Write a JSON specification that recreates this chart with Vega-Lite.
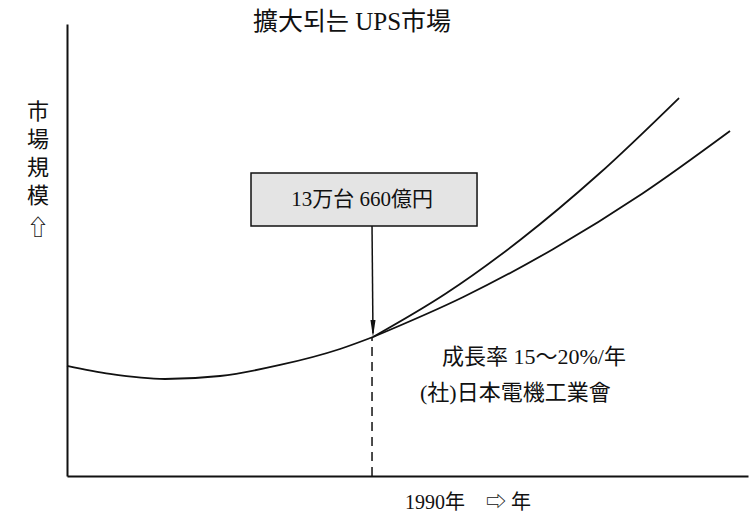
{
  "$schema": "https://vega.github.io/schema/vega-lite/v6.json",
  "width": 681,
  "height": 452,
  "autosize": {"type": "none"},
  "padding": {"left": 67, "top": 24, "right": 4, "bottom": 43},
  "background": "white",
  "config": {
    "view": {"stroke": null},
    "axis": {"labels": false, "ticks": false, "grid": false, "domainColor": "#111", "domainWidth": 2},
    "text": {"font": "Liberation Serif, Noto Sans CJK JP", "color": "#111"}
  },
  "layer": [
    {
      "data": {"values": [
        {"series": "base", "o": 1, "t": 0, "v": 24.34},
        {"series": "base", "o": 2, "t": 6.31, "v": 22.57},
        {"series": "base", "o": 3, "t": 14.39, "v": 21.46},
        {"series": "base", "o": 4, "t": 22.47, "v": 22.12},
        {"series": "base", "o": 5, "t": 31.28, "v": 24.56},
        {"series": "base", "o": 6, "t": 40.09, "v": 28.1},
        {"series": "base", "o": 7, "t": 44.93, "v": 30.75},
        {"series": "high", "o": 1, "t": 44.93, "v": 30.75},
        {"series": "high", "o": 2, "t": 55.58, "v": 40.31},
        {"series": "high", "o": 3, "t": 66.63, "v": 52.32},
        {"series": "high", "o": 4, "t": 78.05, "v": 66.75},
        {"series": "high", "o": 5, "t": 89.87, "v": 83.63},
        {"series": "low", "o": 1, "t": 44.93, "v": 30.75},
        {"series": "low", "o": 2, "t": 58.19, "v": 39.6},
        {"series": "low", "o": 3, "t": 71.36, "v": 50.18},
        {"series": "low", "o": 4, "t": 84.4, "v": 62.39},
        {"series": "low", "o": 5, "t": 97.36, "v": 76.33}
      ]},
      "mark": {"type": "line", "interpolate": "monotone", "color": "#111", "strokeWidth": 1.8},
      "encoding": {
        "x": {"field": "t", "type": "quantitative", "scale": {"domain": [0, 100], "nice": false, "zero": false}, "axis": {"title": null}},
        "y": {"field": "v", "type": "quantitative", "scale": {"domain": [0, 100], "nice": false, "zero": false}, "axis": {"title": null}},
        "detail": {"field": "series"},
        "order": {"field": "o"}
      }
    },
    {
      "data": {"values": [{"t": 44.79, "v": 0, "v2": 30.75}]},
      "mark": {"type": "rule", "color": "#111", "strokeWidth": 1.5, "strokeDash": [9, 6]},
      "encoding": {
        "x": {"field": "t", "type": "quantitative", "axis": {"title": null}},
        "y": {"field": "v", "type": "quantitative", "axis": {"title": null}},
        "y2": {"field": "v2"}
      }
    },
    {
      "data": {"values": [{"t": 27.02, "t2": 60.21, "v": 55.31, "v2": 67.04}]},
      "mark": {"type": "rect", "fill": "#e4e4e4", "stroke": "#111", "strokeWidth": 1.5},
      "encoding": {
        "x": {"field": "t", "type": "quantitative", "axis": {"title": null}},
        "x2": {"field": "t2"},
        "y": {"field": "v", "type": "quantitative", "axis": {"title": null}},
        "y2": {"field": "v2"}
      }
    },
    {
      "data": {"values": [{"t": 44.79, "t2": 44.93, "v": 55.31, "v2": 31.6}]},
      "mark": {"type": "rule", "color": "#111", "strokeWidth": 1.5},
      "encoding": {
        "x": {"field": "t", "type": "quantitative", "axis": {"title": null}},
        "x2": {"field": "t2"},
        "y": {"field": "v", "type": "quantitative", "axis": {"title": null}},
        "y2": {"field": "v2"}
      }
    },
    {
      "data": {"values": [{"t": 44.93, "v": 32.63}]},
      "mark": {"type": "point", "shape": "M-0.3,-1L0.3,-1L0,1Z", "size": 289, "filled": true, "color": "#111", "opacity": 1},
      "encoding": {
        "x": {"field": "t", "type": "quantitative", "axis": {"title": null}},
        "y": {"field": "v", "type": "quantitative", "axis": {"title": null}}
      }
    },
    {
      "data": {"values": [{"label": "擴大되는 UPS市場", "t": 41.85, "v": 100.4}]},
      "mark": {"type": "text", "fontSize": 25, "align": "center", "baseline": "middle"},
      "encoding": {
        "x": {"field": "t", "type": "quantitative", "axis": {"title": null}},
        "y": {"field": "v", "type": "quantitative", "axis": {"title": null}},
        "text": {"field": "label"}
      }
    },
    {
      "data": {"values": [
        {"label": "市", "t": -4.26, "v": 80.53},
        {"label": "場", "t": -4.26, "v": 74.34},
        {"label": "規", "t": -4.26, "v": 68.14},
        {"label": "模", "t": -4.26, "v": 61.95},
        {"label": "⇧", "t": -4.26, "v": 54.87}
      ]},
      "mark": {"type": "text", "fontSize": 22, "align": "center", "baseline": "middle"},
      "encoding": {
        "x": {"field": "t", "type": "quantitative", "axis": {"title": null}},
        "y": {"field": "v", "type": "quantitative", "axis": {"title": null}},
        "text": {"field": "label"}
      }
    },
    {
      "data": {"values": [{"label": "13万台 660億円", "t": 43.32, "v": 61.06}]},
      "mark": {"type": "text", "fontSize": 21, "align": "center", "baseline": "middle"},
      "encoding": {
        "x": {"field": "t", "type": "quantitative", "axis": {"title": null}},
        "y": {"field": "v", "type": "quantitative", "axis": {"title": null}},
        "text": {"field": "label"}
      }
    },
    {
      "data": {"values": [
        {"label": "1990年", "t": 49.63, "v": -5.97},
        {"label": "⇨ 年", "t": 61.53, "v": -5.97}
      ]},
      "mark": {"type": "text", "fontSize": 20, "align": "left", "baseline": "middle"},
      "encoding": {
        "x": {"field": "t", "type": "quantitative", "axis": {"title": null}},
        "y": {"field": "v", "type": "quantitative", "axis": {"title": null}},
        "text": {"field": "label"}
      }
    },
    {
      "data": {"values": [
        {"label": "成長率 15～20%/年", "t": 55.07, "v": 26.33},
        {"label": "(社)日本電機工業會", "t": 51.84, "v": 18.36}
      ]},
      "mark": {"type": "text", "fontSize": 22, "align": "left", "baseline": "middle"},
      "encoding": {
        "x": {"field": "t", "type": "quantitative", "axis": {"title": null}},
        "y": {"field": "v", "type": "quantitative", "axis": {"title": null}},
        "text": {"field": "label"}
      }
    }
  ]
}
